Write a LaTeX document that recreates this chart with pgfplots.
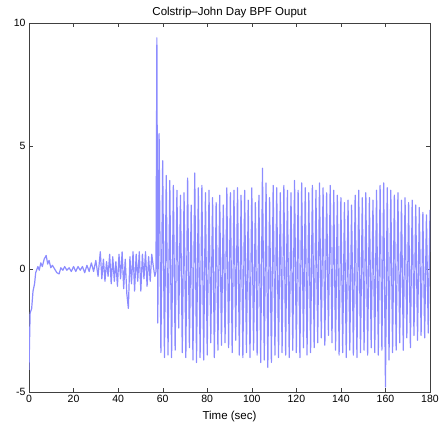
\documentclass[border=0pt]{standalone}
\usepackage{fontspec}
\setmainfont{Liberation Sans}
\usepackage{pgfplots}
\pgfplotsset{compat=1.18}
\definecolor{sig}{RGB}{140,140,255}
\begin{document}
\begin{tikzpicture}
\path (-29pt,-37pt) rectangle (414pt,392pt);
\begin{axis}[
  scale only axis, width=401pt, height=369pt,
  xmin=0, xmax=180, ymin=-5, ymax=10,
  xtick={0,20,...,180}, ytick={-5,0,5,10},
  /pgf/number format/assume math mode=true,
  tick label style={font=\fontsize{10.5}{12}\selectfont},
  title={Colstrip\textendash John Day BPF Ouput},
  title style={font=\fontsize{11.5}{13}\selectfont, yshift=-4pt},
  xlabel={Time (sec)},
  xlabel style={font=\fontsize{11.5}{13}\selectfont, yshift=-1pt},
  axis line style={line width=0.6pt, black!75},
  tick style={black!75},
  major tick length=4pt,
  clip=true,
]
\addplot[sig, line width=1.2pt, line join=round] coordinates {
(0,-4.1) (0.5,-1.8) (1.2,-1.6) (1.8,-0.9) (2.5,-0.6) (3.0,-0.15)
(4.0,0.1) (4.6,-0.05) (5.3,0.25) (6.0,0.1) (6.8,0.4) (7.7,0.55) (8.4,0.2) (9.0,0.35)
(9.8,0.05) (10.5,0.15) (11.5,0.0) (12.5,-0.15) (13.5,-0.2) (14.3,0.05) (15.2,-0.05)
(16.0,0.1) (17.0,-0.05) (18.0,0.05) (19,-0.1) (20,0.1) (21,-0.1) (22,0.1) (23,-0.05)
(24,0.1) (25,-0.15) (26,0.15) (27,-0.1) (28,0.25) (29,-0.1) (30,0.35) (31,-0.3)
(32,0.7) (32.7,-0.4) (33.4,0.4) (34.1,-0.5) (34.8,0.3) (35.5,-0.3) (36.2,0.6)
(36.9,-0.6) (37.6,0.5) (38.3,-0.5) (39,0.3) (39.7,-0.7) (40.4,0.6) (41.1,-0.4)
(41.8,0.7) (42.5,-0.8) (43.2,0.4) (43.9,-1.0) (44.6,-1.6) (45.3,0.5) (46,-0.6)
(46.7,0.7) (47.4,-0.9) (48.1,0.6) (48.8,-0.5) (49.5,0.7) (50.2,-0.9) (50.9,0.6)
(51.6,-0.4) (52.3,0.7) (53,-0.7) (53.7,0.5) (54.4,-0.5) (55.1,0.6) (55.8,0.1)
(56.5,-0.3) (57.0,-0.1)
(57.4,9.4) (57.8,-2.2) (58.4,5.5) (59.2,-3.4) (60.0,4.4) (60.8,-3.6) (61.6,3.8)
(62.4,-3.5) (63.2,3.6) (64.0,-3.6) (64.8,3.4) (65.6,-3.3) (66.4,3.2) (67.2,-2.4)
(68.0,3.0) (68.8,-3.4) (69.6,3.1) (70.4,-3.6) (71.2,3.7) (72.0,-3.2) (72.8,2.6)
(73.6,-3.7) (74.4,3.9) (75.2,-3.8) (76.0,3.3) (76.8,-3.6) (77.6,3.4) (78.4,-3.7)
(79.2,3.1) (80.0,-3.5) (80.8,3.2) (81.6,-3.0) (82.4,2.9) (83.2,-3.6) (84.0,2.7)
(84.8,-3.3) (85.6,3.0) (86.4,-3.1) (87.2,2.6) (88.0,-3.0) (88.8,3.3) (89.6,-3.2)
(90.4,3.1) (91.2,-3.4) (92.0,3.2) (92.8,-2.9) (93.6,3.3) (94.4,-3.5) (95.2,3.0)
(96.0,-3.6) (96.8,3.2) (97.6,-3.4) (98.4,2.8) (99.2,-3.6) (100.0,3.3) (100.8,-3.3)
(101.6,2.7) (102.4,-3.5) (103.2,3.0) (104.0,-3.8) (104.8,4.1) (105.6,-3.7) (106.4,3.5)
(107.2,-4.0) (108.0,2.9) (108.8,-3.8) (109.6,3.4) (110.4,-3.5) (111.2,3.3) (112.0,-3.6)
(112.8,3.1) (113.6,-3.4) (114.4,3.4) (115.2,-3.5) (116.0,3.2) (116.8,-3.6) (117.6,3.1)
(118.4,-3.3) (119.2,3.6) (120.0,-3.4) (120.8,3.2) (121.6,-3.6) (122.4,3.5) (123.2,-3.2)
(124.0,3.3) (124.8,-3.5) (125.6,3.1) (126.4,-3.4) (127.2,3.4) (128.0,-3.2) (128.8,3.2)
(129.6,-3.0) (130.4,3.5) (131.2,-2.8) (132.0,3.3) (132.8,-3.1) (133.6,3.1) (134.4,-2.7)
(135.2,3.4) (136.0,-3.0) (136.8,3.2) (137.6,-3.3) (138.4,3.0) (139.2,-3.5) (140.0,2.9)
(140.8,-3.4) (141.6,2.7) (142.4,-3.6) (143.2,2.8) (144.0,-3.3) (144.8,2.6) (145.6,-3.5)
(146.4,3.0) (147.2,-3.6) (148.0,3.2) (148.8,-3.4) (149.6,2.9) (150.4,-3.3) (151.2,3.1)
(152.0,-3.5) (152.8,2.9) (153.6,-3.2) (154.4,2.8) (155.2,-3.4) (156.0,3.2) (156.8,-3.5)
(157.6,3.4) (158.4,-3.3) (159.2,3.5) (160.0,-4.8) (160.8,3.3) (161.6,-3.7) (162.4,3.2)
(163.2,-3.4) (164.0,3.0) (164.8,-3.3) (165.6,3.1) (166.4,-3.0) (167.2,2.8) (168.0,-3.3)
(168.8,2.9) (169.6,-2.8) (170.4,2.7) (171.2,-3.2) (172.0,2.8) (172.8,-2.7) (173.6,2.6)
(174.4,-2.9) (175.2,2.5) (176.0,-2.7) (176.8,2.3) (177.6,-2.8) (178.4,2.2) (179.2,-2.6)
(180.0,2.4)
};
\end{axis}
\end{tikzpicture}
\end{document}
